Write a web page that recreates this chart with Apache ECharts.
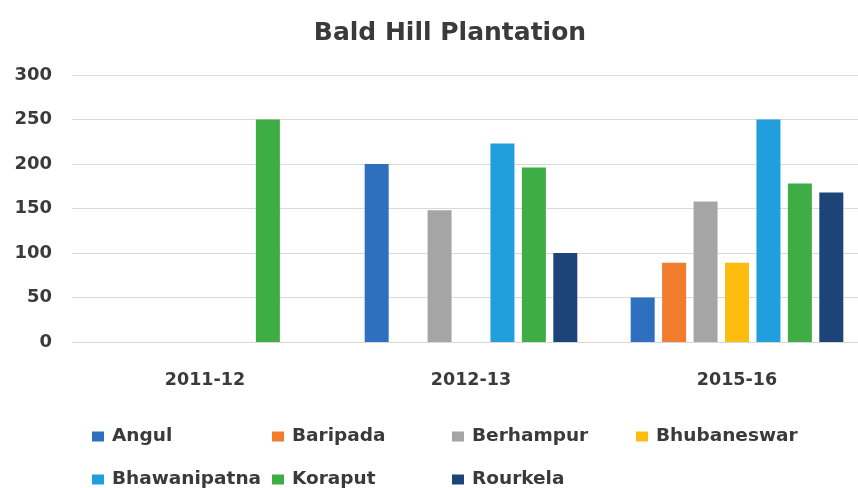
<!DOCTYPE html>
<html>
<head>
<meta charset="utf-8">
<script src="https://cdn.jsdelivr.net/npm/echarts@6/dist/echarts.min.js"></script>
<style>
  html, body { margin: 0; padding: 0; background: #fff; overflow: hidden; }
  #chart { width: 880px; height: 488px; }
</style>
</head>
<body>
<div id="chart"></div>
<script>
// 年份分类
var years = ["2011-12", "2012-13", "2015-16"];
var yTicks = [0, 50, 100, 150, 200, 250, 300];

// 各分区数据 (null = 无数据)
var angul = [null, 200, 50];
var baripada = [null, null, 89];
var berhampur = [null, 148, 158];
var bhubaneswar = [null, null, 89];
var bhawanipatna = [null, 223, 250];
var koraput = [250, 196, 178];
var rourkela = [null, 100, 168];

var seriesNames = ["Angul", "Baripada", "Berhampur", "Bhubaneswar", "Bhawanipatna", "Koraput", "Rourkela"];
var seriesData = [angul, baripada, berhampur, bhubaneswar, bhawanipatna, koraput, rourkela];
var colors = ["#2e6fc0", "#f07c2c", "#a5a5a5", "#fdbd0f", "#219fdc", "#3eae44", "#1c4479"];

var textColor = "#3a3a3a";
var boldFont = "'DejaVu Sans', sans-serif";

var myChart = echarts.init(document.getElementById("chart"));

// 图例位置 (两行, 按列对齐)
var legendPos = [
  [92, 427], [272, 427], [452, 427], [636, 427],
  [92, 470], [272, 470], [452, 470]
];
var legends = [];
seriesNames.forEach(function (name, i) {
  legends.push({
    data: [name],
    left: legendPos[i][0],
    top: legendPos[i][1],
    padding: 0,
    icon: "rect",
    itemWidth: 12,
    itemHeight: 10,
    selectedMode: false,
    textStyle: {
      fontFamily: boldFont,
      fontWeight: "bold",
      fontSize: 18.5,
      color: textColor,
      padding: [0, 0, 0, 3]
    }
  });
});

var series = [];
seriesNames.forEach(function (name, i) {
  series.push({
    name: name,
    type: "bar",
    data: seriesData[i],
    barWidth: 24,
    barGap: "31%",
    itemStyle: { color: colors[i] }
  });
});

var option = {
  animation: false,
  title: {
    text: "Bald Hill Plantation",
    left: 445,
    textAlign: "center",
    top: 16,
    textStyle: {
      fontFamily: boldFont,
      fontWeight: "bold",
      fontSize: 25,
      color: textColor
    }
  },
  legend: legends,
  grid: {
    left: 72,
    top: 75,
    width: 798,
    height: 267,
    containLabel: false
  },
  xAxis: {
    type: "category",
    data: years,
    axisLine: { show: false },
    axisTick: { show: false },
    axisLabel: {
      margin: 29,
      fontFamily: boldFont,
      fontWeight: "bold",
      fontSize: 17.5,
      color: textColor
    }
  },
  yAxis: {
    type: "value",
    min: yTicks[0],
    max: yTicks[yTicks.length - 1],
    interval: 50,
    axisLine: { show: false },
    axisTick: { show: false },
    splitLine: { lineStyle: { color: "#d9d9d9", width: 1 } },
    axisLabel: {
      margin: 20,
      fontFamily: boldFont,
      fontWeight: "bold",
      fontSize: 18,
      color: textColor
    }
  },
  series: series
};

option && myChart.setOption(option);
</script>
</body>
</html>
